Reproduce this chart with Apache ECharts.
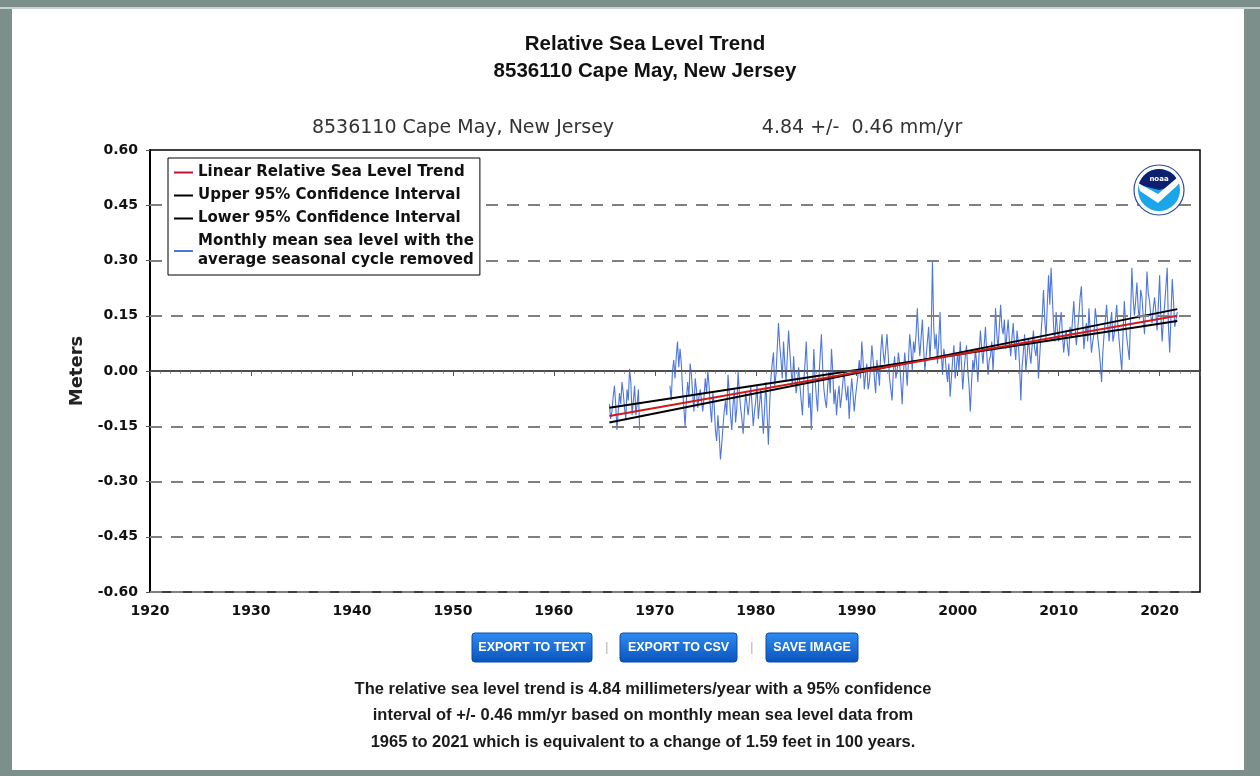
<!DOCTYPE html>
<html>
<head>
<meta charset="utf-8">
<script src="https://cdn.jsdelivr.net/npm/echarts@6/dist/echarts.min.js"></script>
<style>
  html, body { margin: 0; padding: 0; background: #7d8f8b; }
  #chart { width: 1260px; height: 776px; }
</style>
</head>
<body>
<div id="chart"></div>
<script>
// ---------------- DATA ----------------
const stationName = "8536110 Cape May, New Jersey";
const trendText = "4.84 +/-  0.46 mm/yr";
const seriesNames = [
  "Linear Relative Sea Level Trend",
  "Upper 95% Confidence Interval",
  "Lower 95% Confidence Interval",
  "Monthly mean sea level with the average seasonal cycle removed"
];
const xTicks = [1920, 1930, 1940, 1950, 1960, 1970, 1980, 1990, 2000, 2010, 2020];
const yTicks = [-0.60, -0.45, -0.30, -0.15, 0.00, 0.15, 0.30, 0.45, 0.60];
const dashedLevels = [-0.60, -0.45, -0.30, -0.15, 0.15, 0.30, 0.45];

// readings of the monthly-mean series (metres), sampled every 1.5 months; each block has its start year
const stepYears = 0.125;
const block1965 = [-0.09, -0.13, -0.11, -0.07, -0.04, -0.09, -0.16, -0.11, -0.06, -0.09, -0.03, -0.06, -0.10,
  -0.13, -0.05, -0.08, 0.006, -0.03, -0.12, -0.08, -0.04, -0.12, -0.09, -0.05, -0.16];
const block1971 = [-0.04, -0.08, 0.00, 0.03, -0.02, 0.04, 0.08, 0.01, 0.06, 0.02, -0.05, -0.10, -0.15, -0.08,
  -0.03, -0.07, 0.02, -0.01, -0.06, -0.11, -0.02, -0.05, -0.10, -0.07];
const block1974 = [-0.05, -0.08, -0.11, -0.07, -0.02, -0.06, 0.00, -0.04, -0.10, -0.14, -0.06, -0.09, -0.16,
  -0.19, -0.12, -0.17, -0.24, -0.20, -0.15, -0.11, -0.08, -0.12, -0.01, -0.06, -0.12, -0.16, -0.09, -0.05,
  -0.14, -0.10, 0.00, -0.06, -0.10, -0.13, -0.17, -0.11, -0.06, -0.09, -0.12, -0.08, -0.04, -0.09, -0.15,
  -0.11, -0.08, -0.04, -0.13, -0.09, -0.05, -0.11, -0.17, -0.10, -0.03, -0.12, -0.20, -0.09, -0.02, 0.02,
  0.05, -0.04, -0.01, 0.06, 0.13, 0.07, 0.03, -0.02, 0.08, 0.02, -0.03, 0.04, 0.11, 0.05, 0.00, -0.04,
  0.04, -0.02, -0.06, -0.03, 0.01, -0.04];
const block1984 = [-0.08, -0.12, -0.03, 0.02, 0.08, -0.01, -0.10, -0.06, -0.16, -0.05, 0.06, -0.02, -0.07,
  -0.11, -0.02, 0.04, 0.10, 0.01, -0.05, -0.08, -0.10, -0.04, 0.00, -0.06, 0.06, 0.00, -0.09, -0.05, -0.12,
  -0.07, -0.04, -0.10, -0.07, -0.03, 0.00, -0.05, -0.08, -0.04, -0.13, -0.07, -0.02, -0.06, -0.11, -0.07,
  -0.04, -0.01, 0.03, -0.02, 0.08, 0.03, -0.05, -0.01, 0.02, -0.05, -0.03, 0.01, 0.07, 0.03, -0.02, -0.06,
  0.03, 0.00, -0.04, 0.05, 0.10, 0.05, 0.02, 0.06, 0.10, 0.04, -0.02, -0.05, -0.08, 0.00, 0.04, -0.02,
  0.00, 0.05];
const block1994 = [0.02, -0.03, -0.09, -0.01, 0.05, 0.01, -0.04, 0.03, 0.10, 0.06, 0.00, 0.08, 0.05, 0.10,
  0.17, 0.09, 0.04, 0.09, 0.14, 0.06, 0.00, 0.04, 0.08, 0.12, 0.03, 0.10, 0.30, 0.12, 0.06, 0.10, 0.02,
  0.08, 0.16, 0.05, -0.01, 0.06, 0.04, 0.00, -0.03, 0.02, -0.07, -0.02, 0.03, 0.07, -0.02, 0.01, 0.05,
  0.00, 0.08, 0.02, -0.05, 0.00, 0.04, 0.07, 0.00, -0.04, -0.11, -0.03, 0.03, 0.00, 0.06, 0.02, -0.03,
  0.05, 0.11, 0.06, 0.02, 0.07, 0.12, 0.05, -0.01, 0.03, 0.04, 0.08, 0.00, 0.07, 0.17, 0.10, 0.06, 0.12];
const block2004 = [0.18, 0.12, 0.10, 0.14, 0.06, 0.10, 0.14, 0.08, 0.04, 0.09, 0.13, 0.07, 0.03, 0.11, 0.08,
  0.02, -0.08, 0.01, 0.05, 0.10, 0.00, 0.04, 0.09, 0.05, 0.02, 0.07, 0.11, 0.06, 0.04, 0.08, -0.02, 0.04,
  0.10, 0.15, 0.22, 0.14, 0.09, 0.18, 0.26, 0.18, 0.28, 0.20, 0.12, 0.08, 0.16, 0.11, 0.08, 0.13, 0.16,
  0.10, 0.05, 0.09, 0.11, 0.07, 0.04, 0.12, 0.09, 0.14, 0.19, 0.12, 0.07, 0.11, 0.15, 0.20, 0.23, 0.14,
  0.06, 0.10, 0.13, 0.08, 0.17, 0.11, 0.05, 0.08, 0.10, 0.17, 0.14, 0.09];
const block2014 = [0.06, 0.02, -0.03, 0.05, 0.10, 0.14, 0.18, 0.12, 0.08, 0.13, 0.16, 0.08, 0.10, 0.14, 0.18,
  0.12, 0.08, 0.04, 0.00, 0.10, 0.19, 0.13, 0.09, 0.06, 0.03, 0.15, 0.28, 0.20, 0.15, 0.19, 0.24, 0.17,
  0.14, 0.22, 0.20, 0.15, 0.10, 0.18, 0.27, 0.21, 0.19, 0.15, 0.13, 0.17, 0.20, 0.16, 0.11, 0.18, 0.26,
  0.15, 0.08, 0.14, 0.18, 0.23, 0.28, 0.12, 0.05, 0.15, 0.25, 0.19, 0.12, 0.14, 0.16];
const blockStarts = [1965.5, 1971.5, 1974.5, 1984.5, 1994.25, 2004.25, 2014.0];

// trend and confidence lines: [year, metres] end points
const trendLine = [[1965.5, -0.122], [2021.75, 0.150]];
const upperLine = [[1965.5, -0.100], [2021.75, 0.136]];
const lowerLine = [[1965.5, -0.140], [2021.75, 0.168]];

const bottomLines = [
  "The relative sea level trend is 4.84 millimeters/year with a 95% confidence",
  "interval of +/- 0.46 mm/yr based on monthly mean sea level data from",
  "1965 to 2021 which is equivalent to a change of 1.59 feet in 100 years."
];
const buttons = ["EXPORT TO TEXT", "EXPORT TO CSV", "SAVE IMAGE"];

// ---------------- BUILD ----------------
function toPairs(start, vals) {
  return vals.map((v, i) => [start + i * stepYears, v]);
}
const seg1 = toPairs(blockStarts[0], block1965);
const seg2 = [].concat(
  toPairs(blockStarts[1], block1971),
  toPairs(blockStarts[2], block1974),
  toPairs(blockStarts[3], block1984),
  toPairs(blockStarts[4], block1994),
  toPairs(blockStarts[5], block2004),
  toPairs(blockStarts[6], block2014)
);

const chart = echarts.init(document.getElementById('chart'), null, { renderer: 'canvas' });

const monthlyName = seriesNames[3];
const blue = '#4d76de';

const btnFill = {
  type: 'linear', x: 0, y: 0, x2: 0, y2: 1,
  colorStops: [{ offset: 0, color: '#2e8cf2' }, { offset: 1, color: '#0a53bd' }]
};
const btnGeom = [[472, 120], [620, 117], [766, 92]];

const graphics = [
  { type: 'rect', z: -10, shape: { x: 12, y: 9, width: 1232, height: 761 }, style: { fill: '#ffffff' } },
  { type: 'rect', z: -9, shape: { x: 0, y: 7, width: 1260, height: 2 }, style: { fill: '#c9d2cf' } },
  { type: 'text', style: { text: 'Relative Sea Level Trend', x: 645, y: 44, align: 'center', verticalAlign: 'middle',
      fontFamily: 'Liberation Sans', fontWeight: 'bold', fontSize: 20.5, fill: '#111' } },
  { type: 'text', style: { text: stationName, x: 645, y: 71, align: 'center', verticalAlign: 'middle',
      fontFamily: 'Liberation Sans', fontWeight: 'bold', fontSize: 20.5, fill: '#111' } },
  { type: 'text', style: { text: stationName, x: 463, y: 128, align: 'center', verticalAlign: 'middle',
      fontFamily: 'DejaVu Sans', fontSize: 19, fill: '#333' } },
  { type: 'text', style: { text: trendText, x: 862, y: 128, align: 'center', verticalAlign: 'middle',
      fontFamily: 'DejaVu Sans', fontSize: 19, fill: '#333' } }
];
bottomLines.forEach((t, i) => {
  graphics.push({ type: 'text', style: { text: t, x: 643, y: 689 + i * 26.5, align: 'center', verticalAlign: 'middle',
    fontFamily: 'Liberation Sans', fontWeight: 'bold', fontSize: 16.5, fill: '#1a1a1a' } });
});
buttons.forEach((b, i) => {
  const [bx, bw] = btnGeom[i];
  graphics.push({ type: 'rect', shape: { x: bx, y: 633, width: bw, height: 29, r: 3 }, style: { fill: btnFill, stroke: '#0a4aa8', lineWidth: 1 } });
  graphics.push({ type: 'text', style: { text: b, x: bx + bw / 2, y: 648, align: 'center', verticalAlign: 'middle',
    fontFamily: 'Liberation Sans', fontWeight: 'bold', fontSize: 12.5, fill: '#ffffff' } });
});
[606, 751].forEach(sx => {
  graphics.push({ type: 'rect', shape: { x: sx, y: 642, width: 1.5, height: 12 }, style: { fill: '#c8c8c8' } });
});
// NOAA-style emblem
const lx = 1159, ly = 190;
graphics.push({ type: 'circle', z: 50, shape: { cx: lx, cy: ly, r: 25 }, style: { fill: '#ffffff', stroke: '#2c4c9c', lineWidth: 1.2 } });
graphics.push({ type: 'circle', z: 51, shape: { cx: lx, cy: ly, r: 21 }, style: { fill: '#1ca6ea' } });
graphics.push({ type: 'sector', z: 52, shape: { cx: lx, cy: ly, r: 21, r0: 0, startAngle: Math.PI * 1.08, endAngle: Math.PI * 1.92 }, style: { fill: '#0c1f70' } });
graphics.push({ type: 'polygon', z: 53, shape: { points: [[lx - 21, ly - 7], [lx - 1, ly + 4], [lx + 19, ly - 13], [lx + 20, ly - 6], [lx - 1, ly + 13], [lx - 19, ly + 1]] }, style: { fill: '#ffffff' } });
graphics.push({ type: 'text', z: 54, style: { text: 'noaa', x: lx, y: ly - 11, align: 'center', verticalAlign: 'middle', fontFamily: 'DejaVu Sans', fontWeight: 'bold', fontSize: 7, fill: '#ffffff' } });

const option = {
  animation: false,
  backgroundColor: '#7d8f8b',
  graphic: graphics,
  grid: { left: 150, right: 60, top: 150, bottom: 184, show: true, borderColor: '#000', borderWidth: 1.5, backgroundColor: 'transparent' },
  legend: {
    data: [seriesNames[0], seriesNames[1], seriesNames[2], monthlyName],
    orient: 'vertical',
    left: 168, top: 158,
    z: 100, zlevel: 1,
    padding: [5, 6, 5, 6],
    itemGap: 4,
    itemWidth: 19,
    itemHeight: 2,
    icon: 'rect',
    backgroundColor: '#ffffff',
    borderColor: '#000',
    borderWidth: 1,
    textStyle: { fontFamily: 'DejaVu Sans', fontWeight: 'bold', fontSize: 15, lineHeight: 19, color: '#111' },
    formatter: name => name === monthlyName ? 'Monthly mean sea level with the\naverage seasonal cycle removed' : name
  },
  xAxis: {
    type: 'value', min: 1920, max: 2024, interval: 10,
    axisLine: { show: true, lineStyle: { color: '#000', width: 1.5 } },
    axisTick: { show: true, length: 5, lineStyle: { color: '#555' } },
    minorTick: { show: true, splitNumber: 10, length: 3, lineStyle: { color: '#aaa' } },
    splitLine: { show: false },
    axisLabel: { showMaxLabel: false, margin: 12, fontFamily: 'DejaVu Sans', fontWeight: 'bold', fontSize: 14, color: '#111',
      formatter: v => xTicks.indexOf(v) >= 0 ? String(v) : '' }
  },
  yAxis: {
    type: 'value', min: -0.6, max: 0.6, interval: 0.15,
    name: 'Meters', nameLocation: 'middle', nameGap: 61,
    nameTextStyle: { fontFamily: 'DejaVu Sans', fontWeight: 'bold', fontSize: 18, color: '#222' },
    axisLine: { show: true, lineStyle: { color: '#000', width: 2 } },
    axisTick: { show: true, length: 4, lineStyle: { color: '#555' } },
    splitLine: { show: false },
    axisLabel: { margin: 12, fontFamily: 'DejaVu Sans', fontWeight: 'bold', fontSize: 14, color: '#111',
      formatter: v => { const m = yTicks.find(t => Math.abs(t - v) < 1e-9); return m === undefined ? '' : m.toFixed(2); } }
  },
  series: [
    {
      name: 'levels', type: 'line', data: [], silent: true, z: 1,
      markLine: {
        silent: true, symbol: 'none', label: { show: false }, animation: false,
        lineStyle: { type: [12, 9], color: '#808080', width: 2 },
        data: dashedLevels.map(v => ({ yAxis: v })).concat([{ yAxis: 0, lineStyle: { type: 'solid', color: '#555', width: 1.5 } }])
      }
    },
    { name: monthlyName, type: 'line', data: seg1, showSymbol: false, color: blue, lineStyle: { color: blue, width: 1.1 }, z: 3 },
    { name: monthlyName, type: 'line', data: seg2, showSymbol: false, color: blue, lineStyle: { color: blue, width: 1.1 }, z: 3 },
    { name: seriesNames[1], type: 'line', data: upperLine, showSymbol: false, color: '#000', lineStyle: { color: '#000', width: 2 }, z: 4 },
    { name: seriesNames[2], type: 'line', data: lowerLine, showSymbol: false, color: '#000', lineStyle: { color: '#000', width: 2 }, z: 4 },
    { name: seriesNames[0], type: 'line', data: trendLine, showSymbol: false, color: '#c8102e', lineStyle: { color: '#d01a1a', width: 2 }, z: 5 }
  ]
};
chart.setOption(option);
</script>
</body>
</html>
